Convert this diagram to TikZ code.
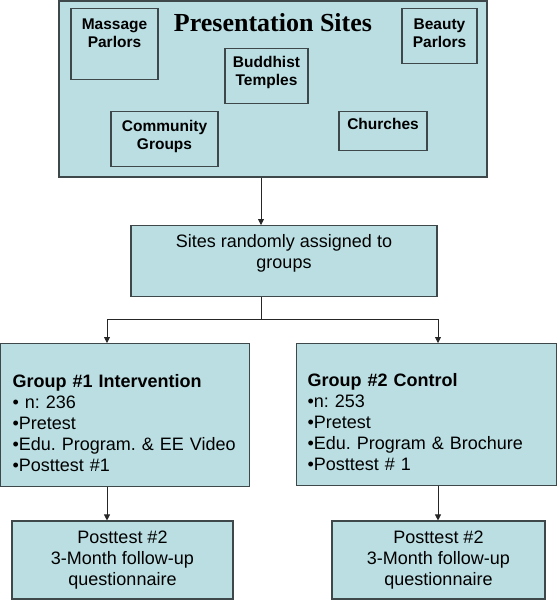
\documentclass[tikz,border=0pt]{standalone}
\usepackage{fontspec}
\setmainfont{Liberation Sans}
\newfontfamily\titlefont{Liberation Serif}
\usetikzlibrary{arrows.meta, positioning}
\definecolor{boxfill}{RGB}{186,222,226}
\definecolor{boxline}{RGB}{62,72,75}
\frenchspacing

\begin{document}
\begin{tikzpicture}[x=1pt, y=-1pt,
    box/.style={draw=boxline, fill=boxfill, line width=1.1pt, inner sep=0pt},
    site/.style={box, anchor=north, align=center, font=\fontsize{15.5}{18}\selectfont\bfseries},
    body/.style={font=\fontsize{18}{21}\selectfont},
    link/.style={draw=black!85, line width=0.8pt},
    flow/.style={link, -{Triangle[length=6pt,width=6pt]}}
  ]
  \useasboundingbox (0,0) rectangle (557,600);

  % presentation sites
  \node[box, minimum width=428pt, minimum height=176pt] (sites) at (273,89) {};
  \node[font=\titlefont\fontsize{26}{30}\selectfont\bfseries, anchor=base] (title) at (273,31) {Presentation Sites};

  \node[site, minimum width=87pt, text height=39pt, text depth=32pt] (massage) at (114.5,8) {Massage\\Parlors};
  \node[site, minimum width=75pt, text height=39pt, text depth=16pt] (beauty) at (439.5,8) {Beauty\\Parlors};
  \node[site, minimum width=83pt, text height=37pt, text depth=18pt] (temples) at (266.5,48) {Buddhist\\Temples};
  \node[site, minimum width=107pt, text height=38pt, text depth=17pt] (community) at (164.5,111) {Community\\Groups};
  \node[site, minimum width=88pt, text height=18pt, text depth=21pt] (churches) at (383,111) {Churches};

  % random assignment
  \node[box, body, anchor=north, align=center, minimum width=306pt, text height=43pt, text depth=28pt] (assign) at (284,225) {Sites randomly assigned to\\groups};

  % the two groups
  \node[box, body, anchor=north west, align=left, text width=225pt, inner xsep=12pt, text height=44pt, text depth=99pt] (grp1) at (0,343)
    {\textbf{Group \#1 Intervention}\\• n: 236\\•Pretest\\•Edu. Program. \& EE Video\\•Posttest \#1};
  \node[box, body, anchor=north west, align=left, text width=238pt, inner xsep=11pt, text height=43pt, text depth=99pt] (grp2) at (296,343)
    {\textbf{Group \#2 Control}\\•n: 253\\•Pretest\\•Edu. Program \& Brochure\\•Posttest \# 1};

  % follow-up
  \node[box, body, align=center, minimum width=221pt, minimum height=78pt] (post1) at (122.5,560) {Posttest \#2\\3-Month follow-up\\questionnaire};
  \node[box, body, align=center, minimum width=213pt, minimum height=78pt] (post2) at (438.5,560) {Posttest \#2\\3-Month follow-up\\questionnaire};

  % connectors
  \coordinate (split) at (261,319);
  \coordinate (left) at (107,319);
  \coordinate (right) at (438,319);

  \draw[flow] (sites.south -| split) -- (assign.north -| split);
  \draw[link] (assign.south -| split) -- (split);
  \draw[link] (left) -- (right);
  \draw[flow] (left) -- (left |- grp1.north);
  \draw[flow] (right) -- (right |- grp2.north);
  \draw[flow] (left |- grp1.south) -- (left |- post1.north);
  \draw[flow] (right |- grp2.south) -- (right |- post2.north);
\end{tikzpicture}
\end{document}
